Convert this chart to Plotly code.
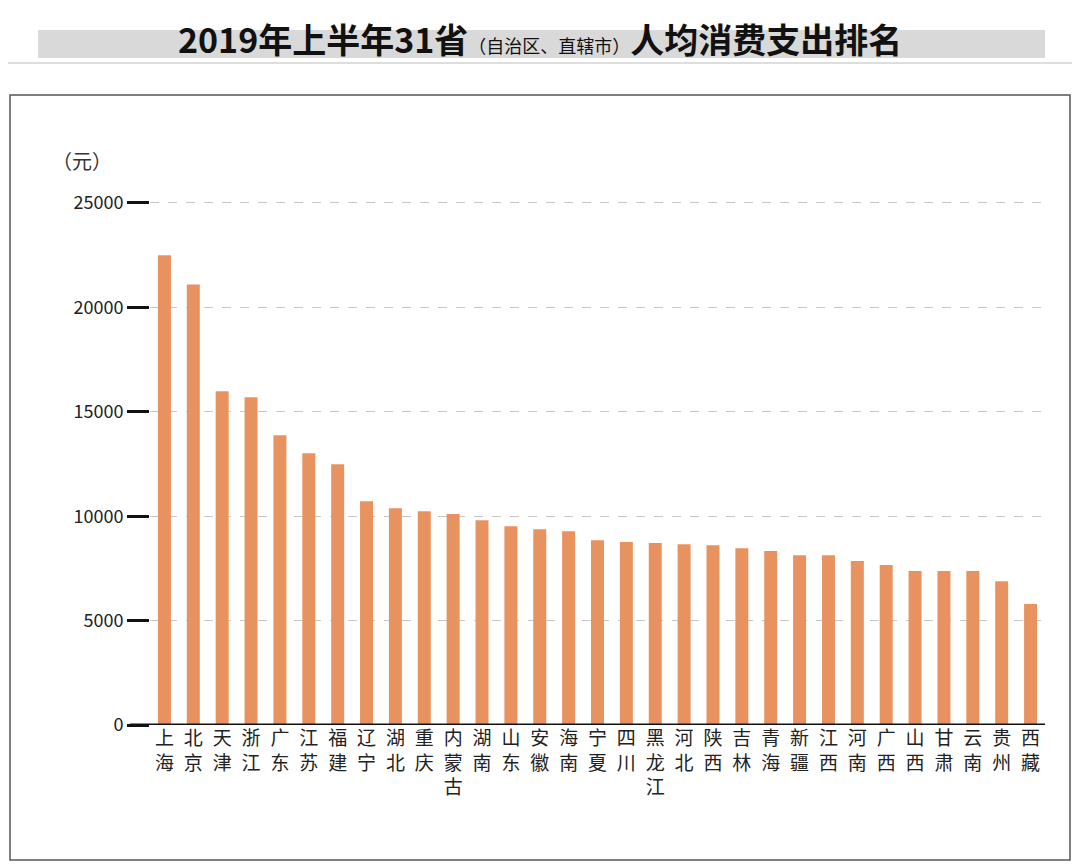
import plotly.graph_objects as go

# 2019 H1 per-capita consumption spending by province (yuan)
provinces = ["上海", "北京", "天津", "浙江", "广东", "江苏", "福建", "辽宁", "湖北", "重庆",
             "内蒙古", "湖南", "山东", "安徽", "海南", "宁夏", "四川", "黑龙江", "河北", "陕西",
             "吉林", "青海", "新疆", "江西", "河南", "广西", "山西", "甘肃", "云南", "贵州", "西藏"]
spending = [22500, 21100, 15980, 15700, 13880, 13020, 12490, 10720, 10380, 10240,
            10100, 9810, 9520, 9380, 9280, 8850, 8760, 8710, 8660, 8610,
            8470, 8330, 8130, 8130, 7850, 7660, 7370, 7370, 7370, 6890, 5790]
y_ticks = [0, 5000, 10000, 15000, 20000, 25000]

font_name = "Noto Sans CJK SC"
bar_color = "#E8935F"

# vertical labels: one character per line
labels = ["<br>".join(p) for p in provinces]

fig = go.Figure()
fig.add_trace(go.Bar(x=labels, y=spending, marker=dict(color=bar_color, line=dict(width=0))))


# page pixel -> paper coords (plot area spans x 150..1045, y 180..725 on the page)
def px_x(px):
    return (px - 150) / 895


def px_y(py):
    return (725 - py) / 545


shapes = [
    # outer frame
    dict(type="rect", xref="paper", yref="paper", x0=px_x(10), x1=px_x(1070),
         y0=px_y(860), y1=px_y(95), line=dict(color="#555", width=1.5)),
    # title band
    dict(type="rect", xref="paper", yref="paper", x0=px_x(38), x1=px_x(1045),
         y0=px_y(58), y1=px_y(30), fillcolor="#d9d9d9", line=dict(width=0), layer="below"),
    dict(type="line", xref="paper", yref="paper", x0=px_x(0), x1=px_x(1080),
         y0=px_y(63), y1=px_y(63), line=dict(color="#bbb", width=1)),
    # baseline
    dict(type="line", xref="paper", yref="y", x0=px_x(130), x1=1.0, y0=0, y1=0,
         line=dict(color="#111", width=3)),
]

annotations = [
    dict(xref="paper", yref="paper", x=px_x(540), y=px_y(38), showarrow=False,
         xanchor="center", yanchor="middle",
         text="<b>2019年上半年31省</b><span style='font-size:18px'>（自治区、直辖市）</span><b>人均消费支出排名</b>",
         font=dict(family=font_name, size=34, color="#111")),
    dict(xref="paper", yref="paper", x=px_x(82), y=px_y(160), showarrow=False,
         xanchor="center", yanchor="middle",
         text="（元）", font=dict(family=font_name, size=20, color="#333")),
]

fig.update_layout(
    width=1080, height=865,
    margin=dict(l=142, r=43, t=172, b=148),
    paper_bgcolor="white", plot_bgcolor="white",
    bargap=0.55, showlegend=False,
    font=dict(family=font_name, color="#222"),
    shapes=shapes, annotations=annotations,
)
fig.update_xaxes(tickfont=dict(size=19, color="#222"), showline=False, ticks="")
fig.update_yaxes(range=[0, 26100], tickvals=y_ticks, ticktext=[str(v) for v in y_ticks],
                 tickfont=dict(size=18, color="#222"), ticks="outside", ticklen=22,
                 tickwidth=3, tickcolor="#111", gridcolor="#c8c8c8", griddash="dash",
                 zeroline=False, showline=False)

fig.write_html("out.html")
